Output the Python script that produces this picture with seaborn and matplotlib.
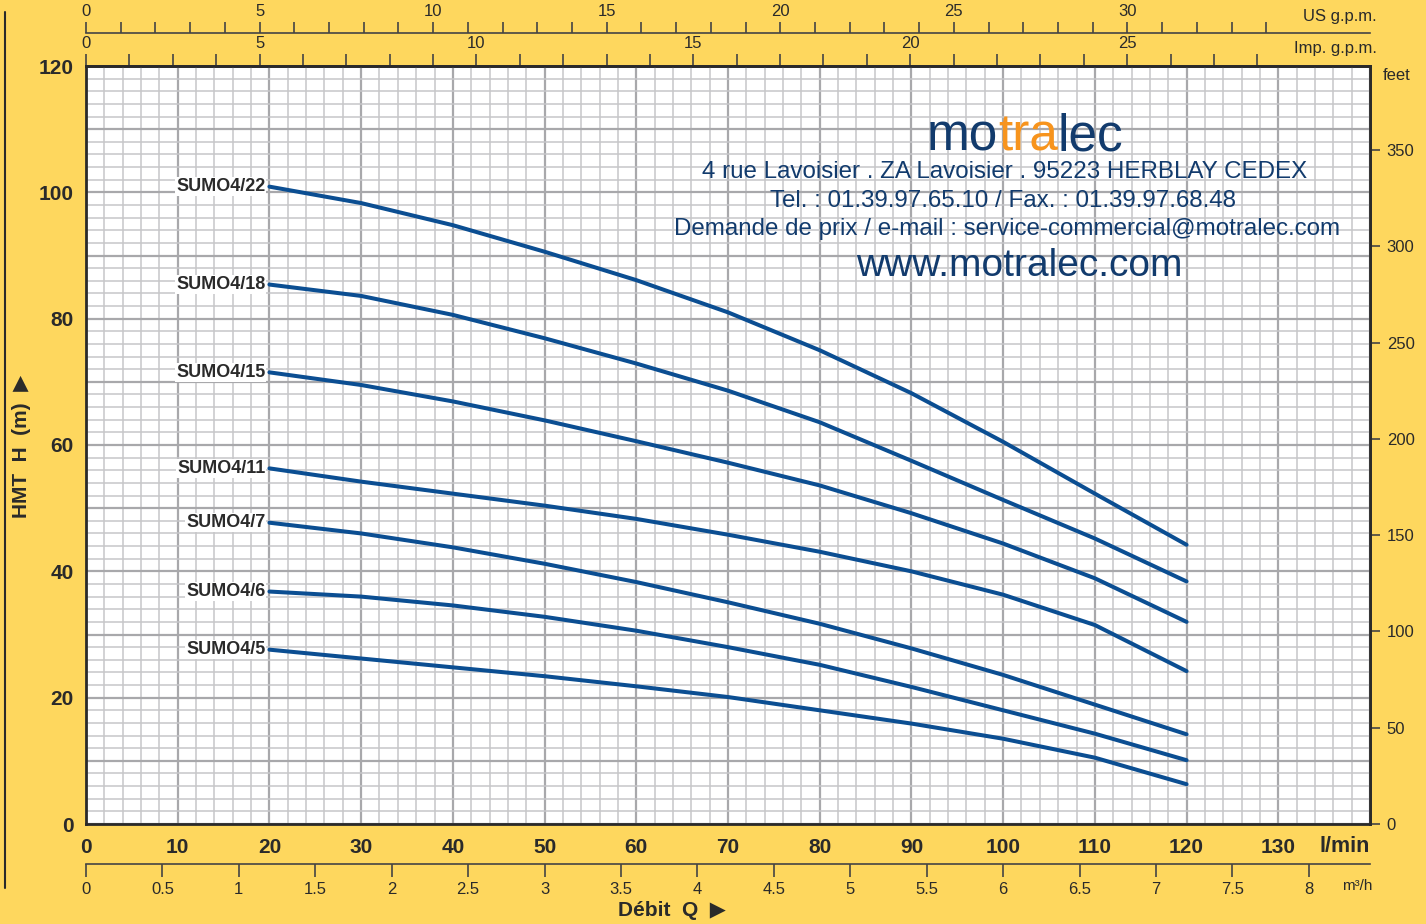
import matplotlib
matplotlib.use("Agg")
import matplotlib.pyplot as plt
import seaborn as sns
import numpy as np
import pandas as pd
from matplotlib.ticker import MultipleLocator
from matplotlib.offsetbox import TextArea, HPacker, AnnotationBbox
from matplotlib.lines import Line2D

#courbes pompes SUMO4 (l/min -> m)
debit = [20, 30, 40, 50, 60, 70, 80, 90, 100, 110, 120]

sumo4_22 = [100.9, 98.3, 94.8, 90.6, 86.1, 81.0, 75.0, 68.2, 60.5, 52.3, 44.2]
sumo4_18 = [85.4, 83.6, 80.6, 76.9, 72.9, 68.6, 63.6, 57.5, 51.3, 45.2, 38.4]
sumo4_15 = [71.5, 69.5, 66.9, 63.9, 60.6, 57.2, 53.6, 49.2, 44.4, 38.9, 32.0]
sumo4_11 = [56.3, 54.2, 52.3, 50.4, 48.3, 45.8, 43.1, 40.0, 36.3, 31.5, 24.2]
sumo4_7 = [47.7, 46.0, 43.8, 41.2, 38.3, 35.1, 31.7, 27.8, 23.6, 18.9, 14.2]
sumo4_6 = [36.8, 36.0, 34.6, 32.8, 30.6, 28.0, 25.2, 21.7, 18.0, 14.3, 10.1]
sumo4_5 = [27.6, 26.2, 24.8, 23.4, 21.8, 20.1, 18.0, 15.9, 13.5, 10.5, 6.3]

pompes = ["SUMO4/22", "SUMO4/18", "SUMO4/15", "SUMO4/11", "SUMO4/7", "SUMO4/6", "SUMO4/5"]
courbes = [sumo4_22, sumo4_18, sumo4_15, sumo4_11, sumo4_7, sumo4_6, sumo4_5]

#ticks
x_ticks = list(range(0, 141, 10))
x_labels = [str(v) for v in range(0, 131, 10)] + [""]
y_ticks = list(range(0, 121, 10))
y_labels = [str(v) if v % 20 == 0 else "" for v in y_ticks]
us_major = [0, 5, 10, 15, 20, 25, 30]
us_minor = list(range(0, 35))
imp_major = [0, 4, 9, 14, 19, 24]          #graduations telles que dessinees sur l'original
imp_labels = ["0", "5", "10", "15", "20", "25"]
imp_minor = list(range(0, 28))
m3h_ticks = [0, 0.5, 1, 1.5, 2, 2.5, 3, 3.5, 4, 4.5, 5, 5.5, 6, 6.5, 7, 7.5, 8]
m3h_labels = ["0", "0.5", "1", "1.5", "2", "2.5", "3", "3.5", "4", "4.5", "5", "5.5", "6", "6.5", "7", "7.5", "8"]
feet_ticks = [0, 50, 100, 150, 200, 250, 300, 350]

rows = []
for nom, vals in zip(pompes, courbes):
    for q, h in zip(debit, vals):
        rows.append({"pompe": nom, "debit": q, "hmt": h})
df = pd.DataFrame(rows)

YELLOW = "#FED75E"
BLUE = "#0b4e92"
DARK = "#2a2a2a"
TXT_BLUE = "#123b6d"

sns.set_style("white")
plt.rcParams["font.family"] = ["Liberation Sans", "DejaVu Sans"]

W, H = 1426, 924
fig = plt.figure(figsize=(W / 100, H / 100), dpi=100)
fig.patch.set_facecolor(YELLOW)
ax = fig.add_axes([86 / W, 1 - 824 / H, (1370 - 86) / W, (824 - 66) / H])
ax.set_facecolor("white")

sns.lineplot(data=df, x="debit", y="hmt", hue="pompe", hue_order=pompes,
             palette=[BLUE] * len(pompes), legend=False, estimator=None,
             sort=False, linewidth=2.9, ax=ax)
for line in ax.get_lines():
    line.set_solid_joinstyle("round")

for nom, vals in zip(pompes, courbes):
    ax.annotate(nom, xy=(debit[0], vals[0]), xytext=(-3, 0), textcoords="offset points",
                ha="right", va="center", fontsize=13, fontweight="bold", color=DARK,
                bbox=dict(facecolor="white", edgecolor="none", pad=0.5))

ax.set_xlim(0, 140)
ax.set_ylim(0, 120)
ax.set_xticks(x_ticks, x_labels)
ax.set_yticks(y_ticks, y_labels)
ax.xaxis.set_minor_locator(MultipleLocator(2))
ax.yaxis.set_minor_locator(MultipleLocator(2))
ax.set_axisbelow(True)
ax.grid(which="major", color="#a8a8ab", linewidth=1.6)
ax.grid(which="minor", color="#c6c6c9", linewidth=1.1)
ax.tick_params(which="both", length=0)
ax.tick_params(axis="x", pad=10, labelsize=15, labelcolor=DARK)
ax.tick_params(axis="y", pad=9, labelsize=15, labelcolor=DARK)
for t in ax.get_xticklabels() + ax.get_yticklabels():
    t.set_fontweight("bold")
ax.set_xlabel("")
ax.set_ylabel("")
for s in ax.spines.values():
    s.set_color(DARK)
    s.set_linewidth(2.0)

#axe US gpm (ligne separee au dessus)
us = ax.secondary_xaxis(1 + 33 / 758, functions=(lambda q: q / 3.785, lambda g: g * 3.785))
us.set_xticks(us_major)
us.set_xticks(us_minor, minor=True)
us.tick_params(which="both", direction="out", length=8, width=1.2, color="#444444",
               labelsize=12, pad=2, labelcolor=DARK)
for s in us.spines.values():
    s.set_color("#444444")
    s.set_linewidth(1.2)

#axe Imp gpm (sur le cadre)
IMP_STEP = 4.73
imp = ax.secondary_xaxis("top", functions=(lambda q: q / IMP_STEP, lambda i: i * IMP_STEP))
imp.set_xticks(imp_major, imp_labels)
imp.set_xticks(imp_minor, minor=True)
imp.tick_params(which="both", direction="out", length=9, width=1.2, color="#444444",
                labelsize=12, pad=2, labelcolor=DARK)
for s in imp.spines.values():
    s.set_color(DARK)
    s.set_linewidth(2.0)

#axe m3/h en bas
m3 = ax.secondary_xaxis(-40 / 758, functions=(lambda q: q * 0.06, lambda m: m / 0.06))
m3.set_xticks(m3h_ticks, m3h_labels)
m3.tick_params(which="both", direction="out", length=9, width=1.2, color="#444444",
               labelsize=12, pad=4, labelcolor=DARK)
for s in m3.spines.values():
    s.set_color("#444444")
    s.set_linewidth(1.2)

#axe feet a droite
ft = ax.secondary_yaxis("right", functions=(lambda m: m * 3.2808, lambda f: f / 3.2808))
ft.set_yticks(feet_ticks)
ft.tick_params(which="both", direction="out", length=7, width=1.2, color="#444444",
               labelsize=12, pad=5, labelcolor=DARK)
for s in ft.spines.values():
    s.set_color(DARK)
    s.set_linewidth(2.0)

#textes autour
fig.text(1377 / W, 1 - 17 / H, "US g.p.m.", ha="right", va="center", fontsize=12, color=DARK)
fig.text(1377 / W, 1 - 48 / H, "Imp. g.p.m.", ha="right", va="center", fontsize=12, color=DARK)
fig.text(1397 / W, 1 - 75 / H, "feet", ha="center", va="center", fontsize=12, color=DARK)
fig.text(1370 / W, 1 - 847 / H, "l/min", ha="right", va="center", fontsize=15.5,
         fontweight="bold", color=DARK)
fig.text(1372 / W, 1 - 886 / H, "m³/h", ha="right", va="center", fontsize=11, color=DARK)
fig.text(22 / W, 1 - 446 / H, "HMT  H  (m)  ▶", rotation=90, ha="center", va="center",
         fontsize=15, fontweight="bold", color=DARK)
fig.text(672 / W, 1 - 910 / H, "Débit  Q  ▶", ha="center", va="center",
         fontsize=15, fontweight="bold", color=DARK)
fig.add_artist(Line2D([5 / W, 5 / W], [1 - 12 / H, 1 - 888 / H], color=DARK,
                      linewidth=1.5, transform=fig.transFigure))

#bloc motralec
logo_font = dict(fontsize=37, family="Liberation Sans")
parts = [TextArea("mo", textprops=dict(color=TXT_BLUE, **logo_font)),
         TextArea("tra", textprops=dict(color="#f7941d", **logo_font)),
         TextArea("lec", textprops=dict(color=TXT_BLUE, **logo_font))]
logo = HPacker(children=parts, align="baseline", pad=0, sep=0)
fig.add_artist(AnnotationBbox(logo, (1025 / W, 1 - 137 / H), xycoords="figure fraction",
                              frameon=False, box_alignment=(0.5, 0.5)))

infos = [("4 rue Lavoisier . ZA Lavoisier . 95223 HERBLAY CEDEX", 1005, 172, 17.4),
         ("Tel. : 01.39.97.65.10 / Fax. : 01.39.97.68.48", 1003, 201, 17.4),
         ("Demande de prix / e-mail : service-commercial@motralec.com", 1007, 229, 17.4),
         ("www.motralec.com", 1019, 266, 28)]
for txt, x, y, size in infos:
    fig.text(x / W, 1 - y / H, txt, ha="center", va="center", fontsize=size,
             family="Liberation Sans", color=TXT_BLUE)

fig.savefig("out.png", dpi=100, facecolor=fig.get_facecolor())
